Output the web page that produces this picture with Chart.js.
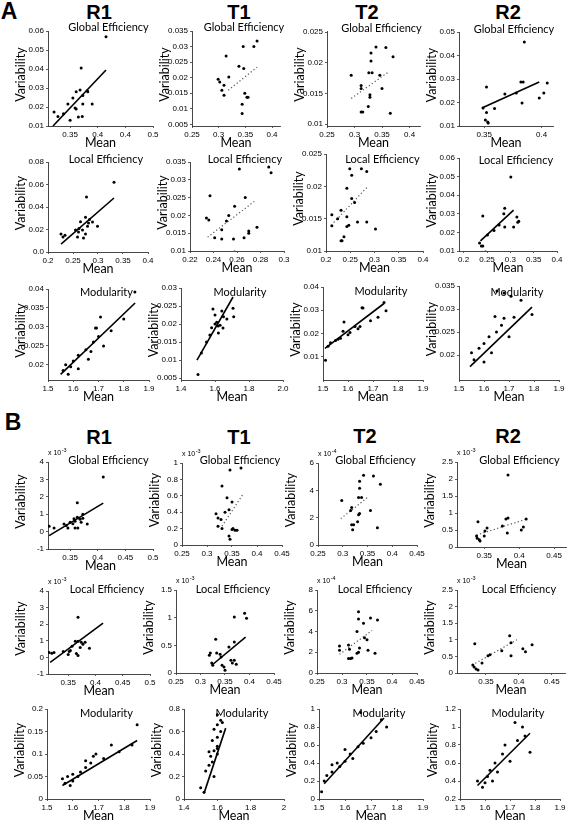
<!DOCTYPE html>
<html><head><meta charset="utf-8">
<script src="https://cdn.jsdelivr.net/npm/chart.js@4.4.1/dist/chart.umd.min.js"></script>
<style>
body{margin:0;background:#fff;width:568px;height:828px;position:relative;overflow:hidden;font-family:'Liberation Sans',Arial,sans-serif}
canvas{position:absolute}
.hd{position:absolute;font-weight:bold;font-size:20px;transform:translate(-50%,-50%);line-height:1;color:#000}
</style></head><body>
<div class="hd" style="left:9px;top:11px;font-size:23px">A</div>
<div class="hd" style="left:99px;top:12px">R1</div>
<div class="hd" style="left:239px;top:12px">T1</div>
<div class="hd" style="left:367px;top:12px">T2</div>
<div class="hd" style="left:508px;top:12px">R2</div>
<div class="hd" style="left:13px;top:422px;font-size:23px">B</div>
<div class="hd" style="left:99px;top:437px">R1</div>
<div class="hd" style="left:239px;top:437px">T1</div>
<div class="hd" style="left:365px;top:436px">T2</div>
<div class="hd" style="left:508px;top:436px">R2</div>
<script>
// ---------- DATA ----------
// Panel A, Global Efficiency
const A_R1_G=[[0.415,0.057],[0.37,0.0405],[0.368,0.029],[0.361,0.028],[0.381,0.0285],[0.373,0.026],[0.355,0.0247],[0.346,0.0216],[0.373,0.0216],[0.39,0.0216],[0.359,0.0195],[0.361,0.019],[0.321,0.0174],[0.328,0.015],[0.35,0.013],[0.365,0.0147],[0.372,0.015],[0.338,0.0165],[0.382,0.028]];
const A_R1_G_fit=[[0.319,0.010],[0.415,0.0395]];
const A_T1_G=[[0.372,0.0318],[0.366,0.030],[0.346,0.030],[0.314,0.027],[0.338,0.0237],[0.347,0.023],[0.319,0.0202],[0.299,0.0195],[0.302,0.0186],[0.31,0.0176],[0.306,0.016],[0.31,0.0144],[0.349,0.015],[0.353,0.0137],[0.355,0.0137],[0.344,0.0115],[0.344,0.0085]];
const A_T1_G_fit=[[0.318,0.016],[0.372,0.0234]];
const A_T2_G=[[0.339,0.0226],[0.357,0.0225],[0.33,0.0216],[0.33,0.0203],[0.37,0.021],[0.294,0.018],[0.326,0.0184],[0.332,0.0184],[0.346,0.018],[0.312,0.0163],[0.312,0.0158],[0.35,0.0158],[0.328,0.0148],[0.328,0.0144],[0.325,0.0129],[0.312,0.012],[0.315,0.012],[0.365,0.0118]];
const A_T2_G_fit=[[0.294,0.0142],[0.363,0.0186]];
const A_R2_G=[[0.385,0.0457],[0.352,0.0266],[0.382,0.0287],[0.384,0.0287],[0.405,0.0283],[0.368,0.0236],[0.378,0.024],[0.402,0.024],[0.398,0.0219],[0.383,0.0198],[0.349,0.0177],[0.359,0.0174],[0.352,0.0157],[0.351,0.0126],[0.353,0.0117],[0.3535,0.0113]];
const A_R2_G_fit=[[0.348,0.0177],[0.398,0.0287]];
// Panel A, Local Efficiency
const A_R1_L=[[0.332,0.062],[0.277,0.049],[0.275,0.031],[0.283,0.029],[0.265,0.027],[0.226,0.016],[0.234,0.015],[0.23,0.0133],[0.261,0.0178],[0.269,0.0196],[0.259,0.0133],[0.271,0.0124],[0.275,0.016],[0.279,0.023],[0.289,0.0267],[0.281,0.0258],[0.299,0.023],[0.255,0.0195],[0.262,0.021]];
const A_R1_L_fit=[[0.226,0.007],[0.332,0.048]];
const A_T1_L=[[0.262,0.033],[0.287,0.0336],[0.289,0.032],[0.237,0.0255],[0.267,0.025],[0.258,0.0226],[0.253,0.020],[0.234,0.0193],[0.236,0.0187],[0.251,0.0184],[0.241,0.0137],[0.247,0.0134],[0.257,0.0134],[0.266,0.0137],[0.27,0.0156],[0.27,0.015],[0.277,0.0167],[0.258,0.0097],[0.247,0.016]];
const A_T1_L_fit=[[0.235,0.0139],[0.275,0.024]];
const A_T2_L=[[0.249,0.0227],[0.273,0.0227],[0.284,0.0223],[0.253,0.0217],[0.243,0.0197],[0.253,0.0181],[0.259,0.0175],[0.212,0.0156],[0.231,0.0163],[0.243,0.0153],[0.224,0.015],[0.265,0.0145],[0.212,0.0139],[0.243,0.0138],[0.247,0.014],[0.284,0.0145],[0.302,0.0134],[0.237,0.0122],[0.231,0.0116],[0.233,0.0116]];
const A_T2_L_fit=[[0.216,0.0144],[0.284,0.0198]];
const A_R2_L=[[0.301,0.0498],[0.288,0.033],[0.241,0.0288],[0.286,0.030],[0.314,0.0283],[0.318,0.026],[0.316,0.0255],[0.288,0.0229],[0.307,0.0229],[0.251,0.0186],[0.234,0.0143],[0.238,0.0127],[0.241,0.0127],[0.247,0.0095],[0.265,0.021],[0.276,0.024]];
const A_R2_L_fit=[[0.236,0.0154],[0.307,0.032]];
// Panel A, Modularity
const A_R1_M=[[1.844,0.0392],[1.708,0.0326],[1.80,0.0321],[1.688,0.0297],[1.692,0.0297],[1.57,0.020],[1.59,0.0195],[1.60,0.021],[1.62,0.0225],[1.65,0.024],[1.67,0.0235],[1.68,0.026],[1.70,0.0275],[1.72,0.025],[1.62,0.019],[1.58,0.0175],[1.66,0.0215],[1.75,0.029],[1.56,0.0185]];
const A_R1_M_fit=[[1.55,0.0175],[1.845,0.0363]];
const A_T1_M=[[1.588,0.0242],[1.64,0.0236],[1.706,0.0244],[1.71,0.022],[1.65,0.022],[1.67,0.0214],[1.60,0.020],[1.618,0.0195],[1.61,0.0205],[1.647,0.0189],[1.63,0.0197],[1.5,0.006],[1.52,0.012],[1.55,0.015],[1.57,0.017],[1.58,0.019],[1.62,0.0175],[1.6,0.0225]];
const A_T1_M_fit=[[1.494,0.01],[1.706,0.0275]];
const A_T2_M=[[1.744,0.0333],[1.752,0.0298],[1.656,0.0311],[1.66,0.031],[1.584,0.0249],[1.628,0.023],[1.648,0.023],[1.608,0.0204],[1.51,0.0085],[1.52,0.0145],[1.53,0.016],[1.55,0.017],[1.57,0.018],[1.6,0.0195],[1.58,0.021],[1.64,0.022],[1.69,0.0255],[1.72,0.027],[1.56,0.0175]];
const A_T2_M_fit=[[1.508,0.0136],[1.744,0.0329]];
const A_R2_M=[[1.652,0.0339],[1.68,0.0335],[1.708,0.0328],[1.748,0.0319],[1.792,0.0288],[1.644,0.0284],[1.68,0.028],[1.72,0.0282],[1.56,0.019],[1.58,0.0215],[1.6,0.0225],[1.62,0.024],[1.65,0.025],[1.7,0.024],[1.6,0.0185],[1.63,0.0205],[1.55,0.0205],[1.67,0.0265]];
const A_R2_M_fit=[[1.544,0.0175],[1.792,0.0304]];
// Panel B, Global Efficiency (scaled by the x10^n shown on each axis)
const B_R1_G=[[0.41,3.14],[0.363,1.66],[0.312,0.31],[0.321,0.2],[0.339,0.43],[0.35,0.54],[0.346,0.2],[0.359,0.6],[0.363,0.83],[0.357,0.74],[0.368,0.71],[0.373,0.77],[0.359,0.2],[0.364,0.2],[0.37,0.54],[0.381,0.43],[0.373,1.0],[0.355,0.45],[0.343,0.35]];
const B_R1_G_fit=[[0.312,-0.23],[0.41,1.64]];
const B_T1_G=[[0.346,0.915],[0.368,0.94],[0.33,0.72],[0.34,0.575],[0.35,0.525],[0.318,0.38],[0.322,0.33],[0.336,0.4],[0.328,0.31],[0.322,0.23],[0.33,0.2],[0.344,0.11],[0.346,0.07],[0.35,0.19],[0.356,0.18],[0.36,0.18],[0.352,0.2],[0.344,0.43]];
const B_T1_G_fit=[[0.33,0.23],[0.372,0.62]];
const B_T2_G=[[0.342,5.1],[0.362,5.04],[0.334,4.67],[0.376,4.44],[0.334,4.15],[0.332,3.48],[0.338,3.48],[0.298,3.26],[0.318,2.74],[0.316,2.52],[0.334,2.3],[0.332,2.22],[0.356,2.52],[0.318,1.48],[0.322,1.48],[0.32,1.11],[0.33,1.7],[0.37,1.26]];
const B_T2_G_fit=[[0.296,1.93],[0.35,3.48]];
const B_R2_G=[[0.384,2.12],[0.341,0.74],[0.381,0.82],[0.384,0.85],[0.41,0.82],[0.383,0.41],[0.403,0.5],[0.406,0.59],[0.376,0.62],[0.351,0.47],[0.339,0.32],[0.34,0.26],[0.343,0.21],[0.344,0.18],[0.354,0.56],[0.35,0.32]];
const B_R2_G_fit=[[0.339,0.35],[0.41,0.82]];
// Panel B, Local Efficiency
const B_R1_L=[[0.368,2.42],[0.315,0.3],[0.324,0.3],[0.341,0.36],[0.357,0.67],[0.352,0.36],[0.368,0.97],[0.374,0.91],[0.377,0.79],[0.372,0.6],[0.365,0.24],[0.368,0.12],[0.35,0.18],[0.389,0.55],[0.381,0.91],[0.363,0.97],[0.354,0.42],[0.32,0.25]];
const B_R1_L_fit=[[0.317,-0.3],[0.414,2.06]];
const B_T1_L=[[0.369,1.01],[0.39,1.08],[0.394,0.99],[0.331,0.61],[0.369,0.56],[0.358,0.47],[0.32,0.36],[0.318,0.32],[0.333,0.36],[0.34,0.34],[0.342,0.29],[0.323,0.18],[0.325,0.14],[0.344,0.14],[0.348,0.11],[0.35,0.05],[0.362,0.23],[0.365,0.18],[0.373,0.16],[0.369,0.23]];
const B_T1_L_fit=[[0.323,0.14],[0.392,0.65]];
const B_T2_L=[[0.333,5.9],[0.333,5.2],[0.357,5.3],[0.343,4.8],[0.371,5.1],[0.33,4.0],[0.35,3.2],[0.345,3.4],[0.295,2.6],[0.313,2.7],[0.315,2.3],[0.295,2.2],[0.335,2.4],[0.333,2.0],[0.33,1.9],[0.352,2.2],[0.313,1.4],[0.317,1.4],[0.32,1.45],[0.366,1.9]];
const B_T2_L_fit=[[0.295,1.8],[0.36,4.1]];
const B_R2_L=[[0.333,0.88],[0.386,1.12],[0.388,0.91],[0.374,0.67],[0.388,0.52],[0.406,0.73],[0.41,0.64],[0.42,0.85],[0.353,0.52],[0.356,0.55],[0.344,0.3],[0.332,0.18],[0.335,0.12],[0.338,0.09],[0.33,0.24]];
const B_R2_L_fit=[[0.329,0.24],[0.397,1.0]];
// Panel B, Modularity
const B_R1_M=[[1.56,0.045],[1.58,0.05],[1.57,0.035],[1.6,0.04],[1.6,0.055],[1.62,0.05],[1.63,0.06],[1.65,0.07],[1.65,0.085],[1.67,0.08],[1.68,0.095],[1.69,0.1],[1.72,0.09],[1.75,0.12],[1.78,0.105],[1.83,0.12],[1.85,0.165],[1.59,0.03]];
const B_R1_M_fit=[[1.56,0.03],[1.85,0.13]];
const B_T1_M=[[1.6,0.75],[1.62,0.7],[1.6,0.66],[1.58,0.62],[1.62,0.6],[1.6,0.55],[1.57,0.52],[1.6,0.47],[1.58,0.43],[1.6,0.4],[1.56,0.38],[1.57,0.33],[1.55,0.3],[1.53,0.25],[1.58,0.2],[1.5,0.1],[1.52,0.06],[1.63,0.68],[1.6,0.45],[1.55,0.42]];
const B_T1_M_fit=[[1.52,0.05],[1.65,0.63]];
const B_T2_M=[[1.51,0.08],[1.52,0.2],[1.53,0.26],[1.55,0.3],[1.57,0.4],[1.58,0.36],[1.6,0.42],[1.62,0.5],[1.63,0.45],[1.65,0.58],[1.66,0.96],[1.67,0.62],[1.7,0.68],[1.72,0.75],[1.74,0.88],[1.76,0.8],[1.6,0.55],[1.55,0.38]];
const B_T2_M_fit=[[1.52,0.17],[1.75,0.9]];
const B_R2_M=[[1.57,0.4],[1.59,0.33],[1.6,0.38],[1.62,0.52],[1.64,0.6],[1.65,0.5],[1.67,0.7],[1.68,0.8],[1.7,0.62],[1.72,1.05],[1.73,0.85],[1.75,1.0],[1.78,0.72],[1.76,0.9],[1.61,0.45],[1.63,0.4]];
const B_R2_M_fit=[[1.57,0.35],[1.78,0.93]];

// ---------- TICKS ----------
const XT_R1=[0.35,0.4,0.45,0.5];
const XL_A_R1_G=['0.35','0.4','0.4','0.5'];
const XT_025_040=[0.25,0.3,0.35,0.4];
const XT_035_040=[0.35,0.4];
const XT_020_040=[0.2,0.25,0.3,0.35,0.4];
const XT_022_030=[0.22,0.24,0.26,0.28,0.3];
const XT_MOD15=[1.5,1.6,1.7,1.8,1.9];
const XT_MOD14=[1.4,1.6,1.8,2.0];
const XL_A_MOD14=['1.4','1.6','1.8','2.0'];
const XL_B_MOD14=['1.4','1.6','1.8','2'];
const XT_025_045=[0.25,0.3,0.35,0.4,0.45];
const XT_035_045=[0.35,0.4,0.45];
const YT_A_R1_G=[0.01,0.02,0.03,0.04,0.05,0.06];
const YT_A_T1_G=[0.005,0.01,0.015,0.02,0.025,0.03,0.035];
const YT_A_T2=[0.01,0.015,0.02,0.025];
const YT_A_R2_G=[0.01,0.02,0.03,0.04,0.05];
const YT_A_R1_L=[0,0.02,0.04,0.06,0.08];
const YL_A_R1_L=['0.0','0.02','0.04','0.06','0.08'];
const YT_A_T1_L=[0.01,0.015,0.02,0.025,0.03,0.035];
const YT_A_R2_L=[0.01,0.02,0.03,0.04,0.05,0.06];
const YT_A_R1_M=[0.02,0.025,0.03,0.035,0.04];
const YT_A_T1_M=[0.005,0.01,0.015,0.02,0.025,0.03];
const YT_A_T2_M=[0.01,0.02,0.03,0.04];
const YT_A_R2_M=[0.02,0.025,0.03,0.035];
const YT_B_R1=[-1,0,1,2,3,4];
const YT_B_T1_G=[0,0.2,0.4,0.6,0.8,1];
const YT_B_T2_G=[0,2,4,6];
const YT_B_R2=[0,0.5,1,1.5,2,2.5];
const YT_B_T1_L=[0,0.5,1,1.5];
const YT_B_T2_L=[0,2,4,6,8];
const YT_B_R1_M=[0,0.05,0.1,0.15,0.2];
const YT_B_T1_M=[0,0.2,0.4,0.6,0.8];
const YT_B_T2_M=[0,0.2,0.4,0.6,0.8,1];
const YT_B_R2_M=[0.2,0.4,0.6,0.8,1,1.2];

// ---------- LAYOUT ----------
const GE='Global Efficiency', LE='Local Efficiency', MO='Modularity';
const panels=[
 {l:48,t:31,r:153,b:126,xr:[0.31,0.5],yr:[0.01,0.06],pts:A_R1_G,fit:A_R1_G_fit,dot:false,title:GE,ty:-4,xt:XT_R1,xl:XL_A_R1_G,yt:YT_A_R1_G},
 {l:192,t:31,r:280,b:126,xr:[0.25,0.415],yr:[0.0045,0.035],pts:A_T1_G,fit:A_T1_G_fit,dot:true,title:GE,ty:-4,xt:XT_025_040,yt:YT_A_T1_G},
 {l:327,t:31,r:420,b:126,xr:[0.25,0.419],yr:[0.0097,0.0252],pts:A_T2_G,fit:A_T2_G_fit,dot:true,title:GE,ty:-3,xt:XT_025_040,yt:YT_A_T2},
 {l:459,t:32,r:553,b:126,xr:[0.328,0.41],yr:[0.01,0.05],pts:A_R2_G,fit:A_R2_G_fit,dot:false,title:GE,ty:-3,xt:XT_035_040,yt:YT_A_R2_G},

 {l:48,t:162,r:148,b:252,xr:[0.2,0.4],yr:[0,0.08],pts:A_R1_L,fit:A_R1_L_fit,dot:false,title:LE,ty:-3,xt:XT_020_040,yt:YT_A_R1_L,yl:YL_A_R1_L},
 {l:190,t:162,r:284,b:251,xr:[0.22,0.3],yr:[0.01,0.035],pts:A_T1_L,fit:A_T1_L_fit,dot:true,title:LE,ty:-3,xt:XT_022_030,yt:YT_A_T1_L},
 {l:326,t:154,r:423,b:251,xr:[0.2,0.4],yr:[0.01,0.025],pts:A_T2_L,fit:A_T2_L_fit,dot:true,title:LE,ty:5,xt:XT_020_040,yt:YT_A_T2},
 {l:459,t:158,r:557,b:251,xr:[0.19,0.4],yr:[0.01,0.06],pts:A_R2_L,fit:A_R2_L_fit,dot:false,title:LE,ty:2,xt:XT_020_040,yt:YT_A_R2_L},

 {l:48,t:289,r:149,b:380,xr:[1.5,1.9],yr:[0.016,0.04],pts:A_R1_M,fit:A_R1_M_fit,dot:false,title:MO,ty:3,xt:XT_MOD15,yt:YT_A_R1_M},
 {l:181,t:288,r:283,b:380,xr:[1.4,2.0],yr:[0.0045,0.03],pts:A_T1_M,fit:A_T1_M_fit,dot:false,title:MO,ty:4,xt:XT_MOD14,xl:XL_A_MOD14,yt:YT_A_T1_M},
 {l:323,t:287,r:423,b:380,xr:[1.5,1.9],yr:[0,0.04],pts:A_T2_M,fit:A_T2_M_fit,dot:false,title:MO,ty:4,xt:XT_MOD15,yt:YT_A_T2_M},
 {l:459,t:286,r:559,b:380,xr:[1.5,1.9],yr:[0.0146,0.035],pts:A_R2_M,fit:A_R2_M_fit,dot:false,title:MO,ty:6,xt:XT_MOD15,yt:YT_A_R2_M},

 {l:48,t:462,r:153,b:549,xr:[0.31,0.5],yr:[-1,4],pts:B_R1_G,fit:B_R1_G_fit,dot:false,title:GE,ty:-2,xt:XT_R1,yt:YT_B_R1,exp:'-3'},
 {l:182,t:463,r:282,b:545,xr:[0.25,0.45],yr:[0,1],pts:B_T1_G,fit:B_T1_G_fit,dot:true,title:GE,ty:-3,xt:XT_025_045,yt:YT_B_T1_G,exp:'-3'},
 {l:318,t:463,r:417,b:545,xr:[0.25,0.45],yr:[0,6],pts:B_T2_G,fit:B_T2_G_fit,dot:true,title:GE,ty:-3,xt:XT_025_045,yt:YT_B_T2_G,exp:'-4'},
 {l:457,t:462,r:566,b:547,xr:[0.311,0.467],yr:[0,2.5],pts:B_R2_G,fit:B_R2_G_fit,dot:true,title:GE,ty:-2,xt:XT_035_045,yt:YT_B_R2,exp:'-3'},

 {l:48,t:591,r:150,b:674,xr:[0.313,0.5],yr:[-1,4],pts:B_R1_L,fit:B_R1_L_fit,dot:false,title:LE,ty:-2,xt:XT_R1,yt:YT_B_R1,exp:'-3'},
 {l:176,t:590,r:274,b:673,xr:[0.25,0.45],yr:[0,1.5],pts:B_T1_L,fit:B_T1_L_fit,dot:false,title:LE,ty:-1,xt:XT_025_045,yt:YT_B_T1_L,exp:'-3'},
 {l:317,t:590,r:417,b:673,xr:[0.25,0.45],yr:[0,8],pts:B_T2_L,fit:B_T2_L_fit,dot:true,title:LE,ty:-1,xt:XT_025_045,yt:YT_B_T2_L,exp:'-4'},
 {l:457,t:590,r:565,b:673,xr:[0.306,0.47],yr:[0,2.5],pts:B_R2_L,fit:B_R2_L_fit,dot:true,title:LE,ty:-1,xt:XT_035_045,yt:YT_B_R2,exp:'-3'},

 {l:47,t:709,r:150,b:799,xr:[1.5,1.9],yr:[0,0.2],pts:B_R1_M,fit:B_R1_M_fit,dot:false,title:MO,ty:4,xt:XT_MOD15,yt:YT_B_R1_M},
 {l:184,t:709,r:284,b:799,xr:[1.4,2.0],yr:[0,0.8],pts:B_T1_M,fit:B_T1_M_fit,dot:false,title:MO,ty:4,xt:XT_MOD14,xl:XL_B_MOD14,yt:YT_B_T1_M},
 {l:319,t:709,r:423,b:799,xr:[1.5,1.9],yr:[0,1],pts:B_T2_M,fit:B_T2_M_fit,dot:false,title:MO,ty:4,xt:XT_MOD15,yt:YT_B_T2_M},
 {l:460,t:709,r:560,b:799,xr:[1.5,1.9],yr:[0.2,1.2],pts:B_R2_M,fit:B_R2_M_fit,dot:false,title:MO,ty:4,xt:XT_MOD15,yt:YT_B_R2_M}
];

const PL=50,PT=16,PR=16,PB=30;
const TICKFONT={family:"'Liberation Sans', Arial, sans-serif",size:8};
const fmt=v=>String(parseFloat(v.toFixed(6)));

function deco(p){
  return {id:'deco',afterDraw(ch){
    const ctx=ch.ctx,a=ch.chartArea;
    ctx.save();ctx.fillStyle='#000';ctx.textAlign='center';ctx.textBaseline='middle';
    ctx.font="11px Lato, 'Open Sans', sans-serif";
    ctx.fillText(p.title,(a.left+a.right)/2+8,a.top+p.ty);
    ctx.font="12.5px Lato, 'Open Sans', sans-serif";
    ctx.fillText('Mean',(a.left+a.right)/2,a.bottom+17);
    ctx.translate(a.left-27,(a.top+a.bottom)/2-4);ctx.rotate(-Math.PI/2);
    ctx.fillText('Variability',0,0);
    ctx.restore();
    if(p.exp){
      ctx.save();ctx.fillStyle='#000';ctx.textAlign='left';ctx.textBaseline='middle';
      ctx.font="7px 'Liberation Sans', Arial";
      ctx.fillText('x 10',a.left,a.top-9);
      const w=ctx.measureText('x 10').width;
      ctx.font="5.5px 'Liberation Sans', Arial";
      ctx.fillText(p.exp,a.left+w+0.5,a.top-12);
      ctx.restore();
    }
  }};
}

function axis(range,tv,tl,isX){
  return {
    type:'linear',min:range[0],max:range[1],
    afterFit:s=>{ if(isX) s.height=PB; else s.width=PL; },
    afterBuildTicks:s=>{ s.ticks=tv.map(v=>({value:v})); },
    ticks:{font:TICKFONT,color:'#000',padding:2,autoSkip:false,maxRotation:0,
      callback:(v,i)=>tl?tl[i]:fmt(tv[i])},
    grid:{drawOnChartArea:false,drawTicks:true,tickLength:2,color:'#333',lineWidth:0.8},
    border:{display:true,color:'#333',width:0.9}
  };
}

panels.forEach(p=>{
  const c=document.createElement('canvas');
  const w=(p.r-p.l)+PL+PR, h=(p.b-p.t)+PT+PB;
  c.width=w;c.height=h;
  c.style.left=(p.l-PL)+'px';c.style.top=(p.t-PT)+'px';
  c.style.width=w+'px';c.style.height=h+'px';
  document.body.appendChild(c);
  new Chart(c,{
    type:'scatter',
    data:{datasets:[
      {data:p.pts.map(d=>({x:d[0],y:d[1]})),pointRadius:1.5,pointBackgroundColor:'#000',pointBorderWidth:0,showLine:false},
      {data:p.fit.map(d=>({x:d[0],y:d[1]})),showLine:true,pointRadius:0,
       borderColor:p.dot?'#555':'#000',borderWidth:p.dot?1.2:1.6,borderDash:p.dot?[1.2,2.4]:[]}
    ]},
    options:{
      responsive:false,animation:false,devicePixelRatio:1,
      layout:{padding:{top:PT,right:PR,left:0,bottom:0}},
      plugins:{legend:{display:false},tooltip:{enabled:false},title:{display:false}},
      scales:{x:axis(p.xr,p.xt,p.xl,true),y:axis(p.yr,p.yt,p.yl,false)}
    },
    plugins:[deco(p)]
  });
});
</script>
</body></html>
